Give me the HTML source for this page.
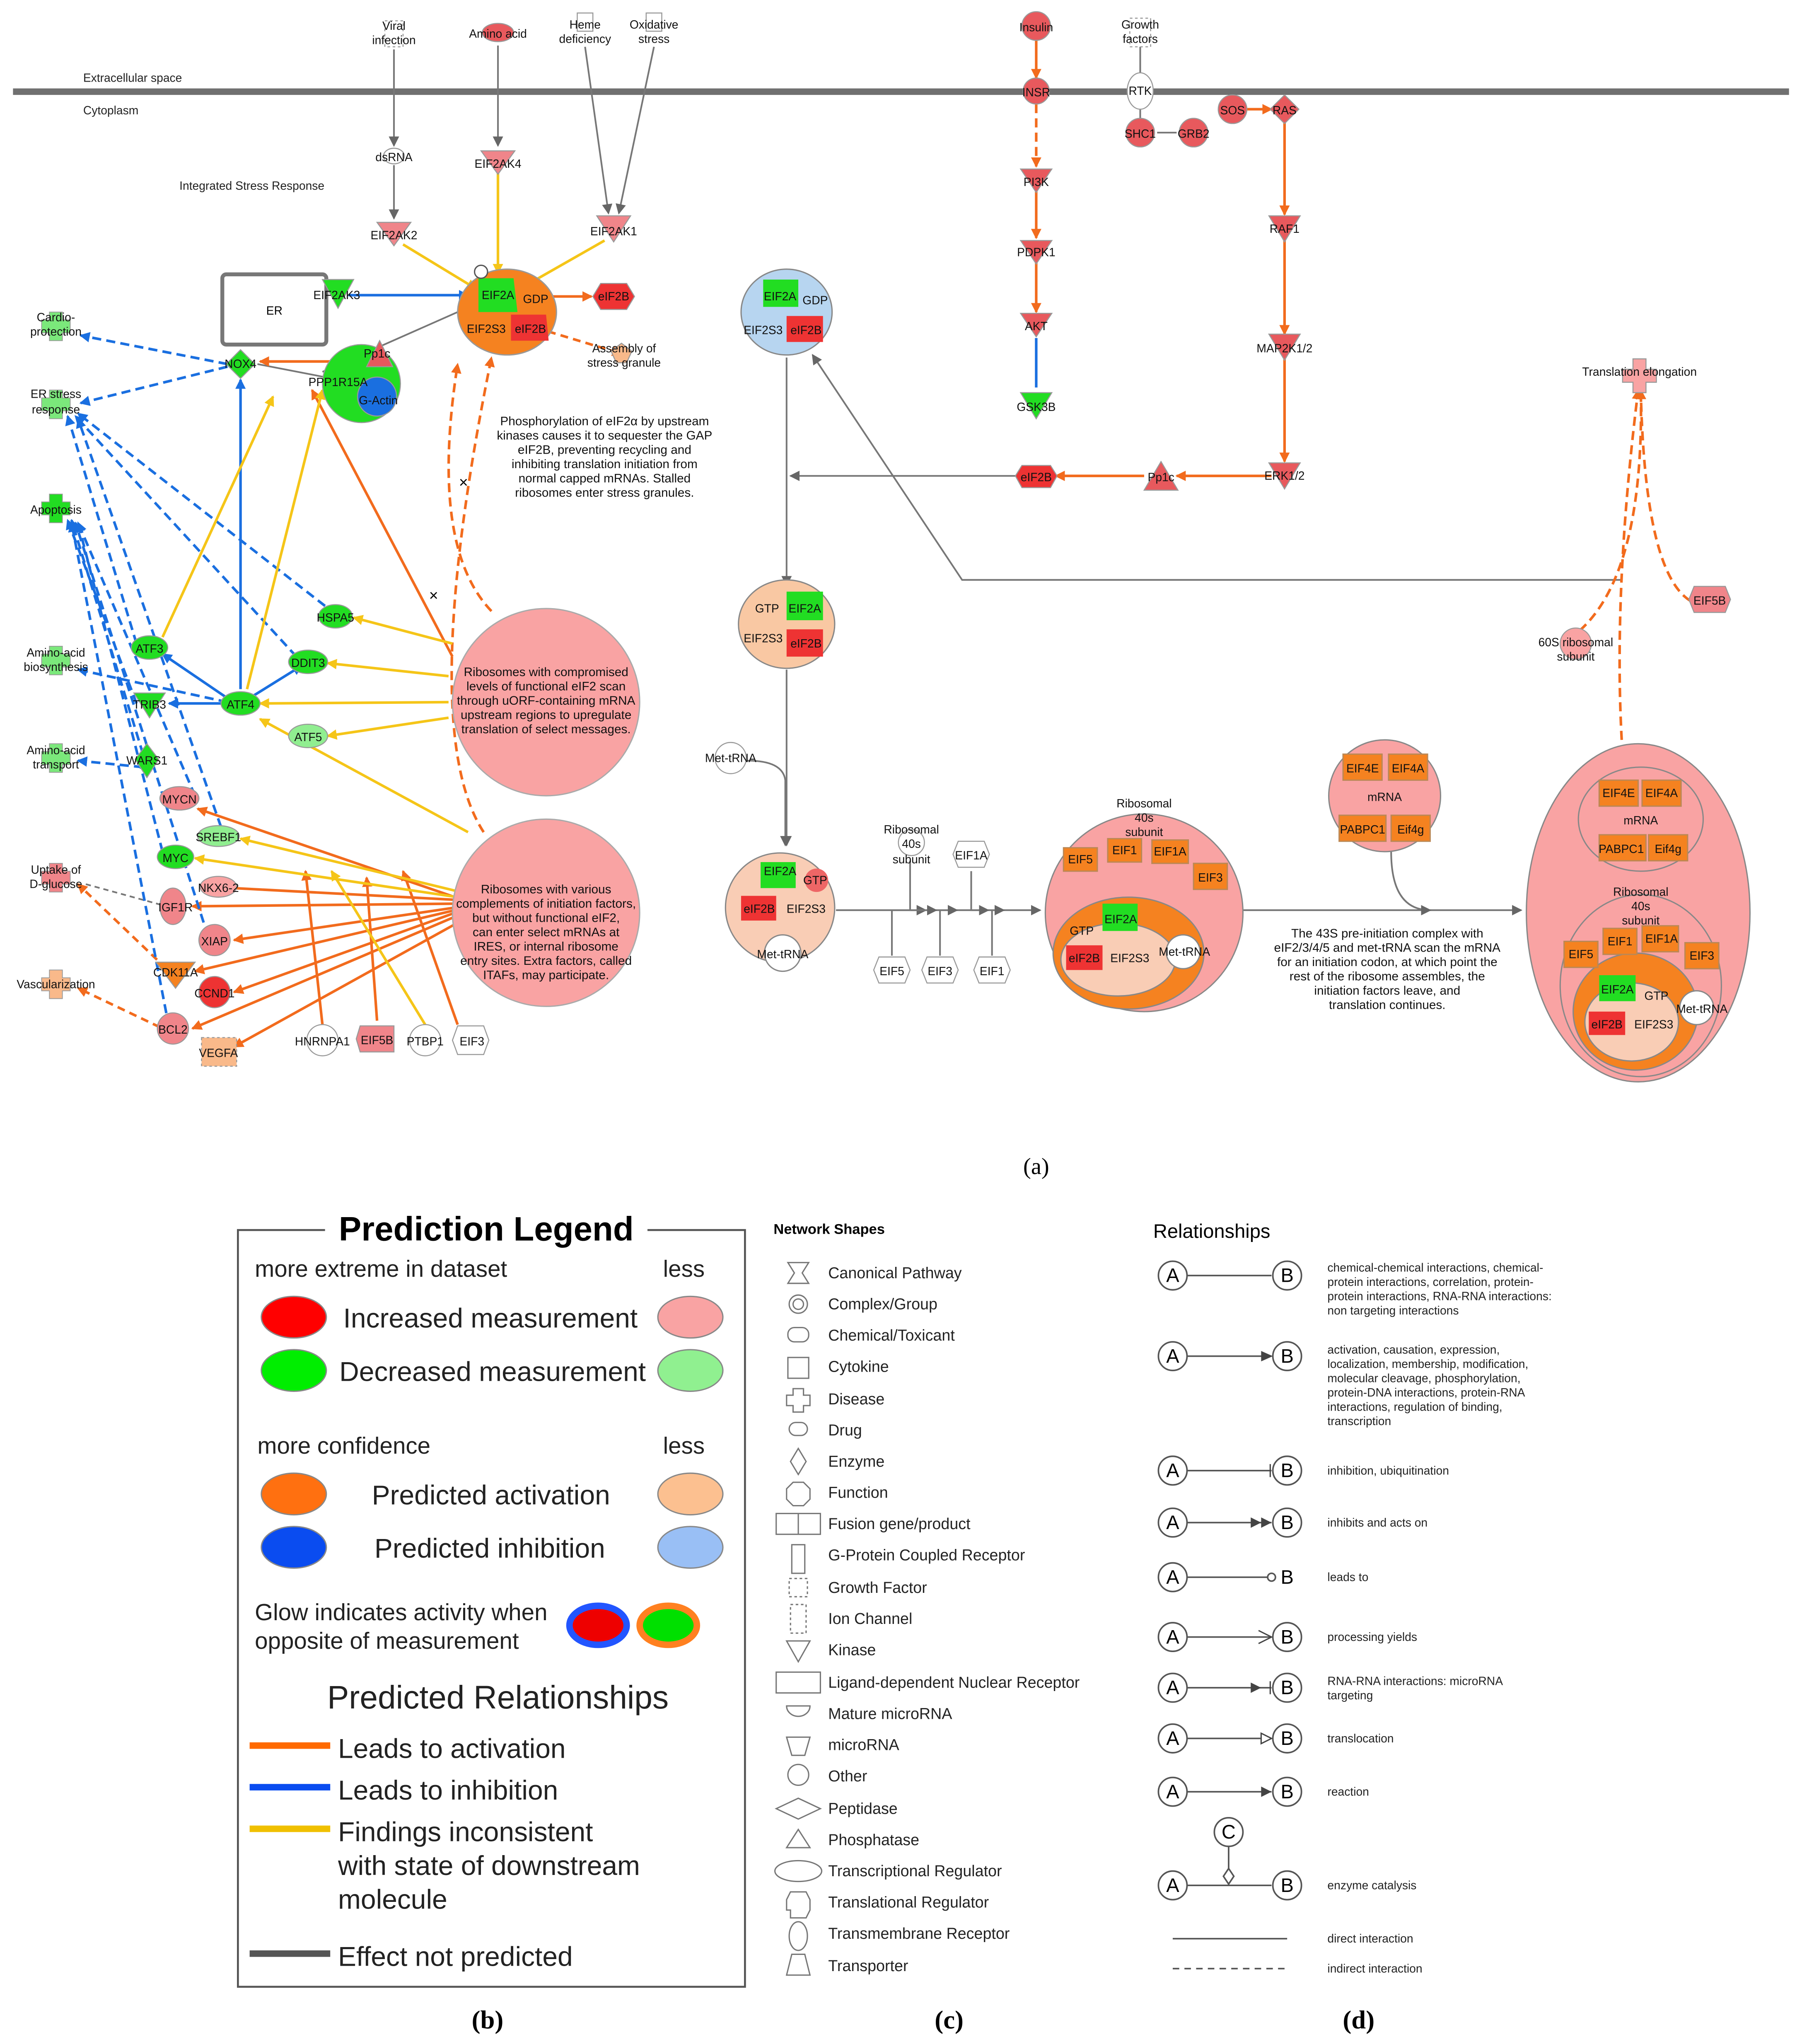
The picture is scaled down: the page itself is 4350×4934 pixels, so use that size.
<!DOCTYPE html>
<html><head><meta charset="utf-8"><style>html,body{margin:0;padding:0;background:#fff}svg{display:block}text{font-family:"Liberation Sans",sans-serif}text.serif{font-family:"Liberation Serif",serif}</style></head><body>
<svg width="4350" height="4934" viewBox="0 0 1386 1572" preserveAspectRatio="none" xmlns="http://www.w3.org/2000/svg">
<defs>
<marker id="ag" markerWidth="8" markerHeight="8" refX="7" refY="4" orient="auto" markerUnits="userSpaceOnUse"><path d="M0,0L8,4L0,8z" fill="#666"/></marker>
<marker id="ao" markerWidth="8" markerHeight="8" refX="7" refY="4" orient="auto" markerUnits="userSpaceOnUse"><path d="M0,0L8,4L0,8z" fill="#f26b1d"/></marker>
<marker id="ab" markerWidth="8" markerHeight="8" refX="7" refY="4" orient="auto" markerUnits="userSpaceOnUse"><path d="M0,0L8,4L0,8z" fill="#1a6fe0"/></marker>
<marker id="ay" markerWidth="8" markerHeight="8" refX="7" refY="4" orient="auto" markerUnits="userSpaceOnUse"><path d="M0,0L8,4L0,8z" fill="#f5c518"/></marker>
</defs>
<rect width="1386" height="1572" fill="#fff"/>
<rect x="10" y="68" width="1366" height="5" fill="#707070"/>
<g font-size="9" fill="#222">
<text x="64" y="63">Extracellular space</text>
<text x="64" y="88">Cytoplasm</text>
<text x="138" y="146">Integrated Stress Response</text>
</g>
<g stroke="#777" stroke-width="1.3" fill="none" marker-end="url(#ag)">
<path d="M303,38V112"/><path d="M303,127V168"/><path d="M383,35V112"/><path d="M450,36L468,164"/><path d="M503,36L476,164"/>
<path d="M605,275V450"/><path d="M605,515V650"/><path d="M1248,446H740L625,273"/>
<path d="M790,366H608"/><path d="M575,585Q602,585 604,600V650"/>
<path d="M643,700H800"/><path d="M700,662V700H712"/><path d="M686,735V700H720"/><path d="M723,735V700H736"/><path d="M763,735V700H772"/><path d="M747,670V700H760"/>
<path d="M955,700H1170"/><path d="M1070,655Q1070,700 1100,700"/>
</g>
<g stroke="#777" stroke-width="1.3" fill="none"><path d="M877,36V60"/><path d="M877,80V95"/><path d="M890,102H905"/><path d="M248,286L352,240"/><path d="M198,280L260,292"/><path d="M66,680L128,697" stroke-dasharray="4,3"/></g>
<g stroke="#f26b1d" stroke-width="2" fill="none" marker-end="url(#ao)">
<path d="M797,28V60"/><path d="M797,80V128" stroke-dasharray="7,4"/><path d="M797,146V183"/><path d="M797,201V240"/>
<path d="M988,93V165"/><path d="M988,184V257"/><path d="M988,276V355"/><path d="M978,366H905"/><path d="M880,366H812"/>
<path d="M958,84H978"/>
<path d="M418,228H455" />
<path d="M412,252L478,272" stroke-dasharray="6,4"/>
<path d="M378,470Q330,420 352,280" stroke-dasharray="7,4"/>
<path d="M372,640Q320,560 378,275" stroke-dasharray="7,4"/>
<path d="M1248,580Q1240,460 1260,300" stroke-dasharray="7,4"/>
<path d="M1215,485Q1265,440 1262,300" stroke-dasharray="7,4"/>
<path d="M1300,462Q1265,440 1262,300" stroke-dasharray="7,4"/>
<path d="M348,505L240,300"/>
<path d="M350,690L152,622"/><path d="M350,692L160,682"/><path d="M350,695L148,697"/><path d="M350,698L180,723"/><path d="M350,700L150,747"/><path d="M350,702L180,763"/><path d="M350,705L148,791"/><path d="M355,708L180,805"/>
<path d="M248,788L235,670"/><path d="M290,785L282,675"/><path d="M352,788L310,670"/>
<path d="M128,745L60,680" stroke-dasharray="6,4"/><path d="M123,790L60,760" stroke-dasharray="6,4"/>
<path d="M258,278H200"/>
</g>
<g stroke="#1a6fe0" stroke-width="2" fill="none" marker-end="url(#ab)">
<path d="M268,227H360"/><path d="M185,530V292"/>
<path d="M175,280L62,258" stroke-dasharray="7,4"/><path d="M175,282L62,310" stroke-dasharray="7,4"/>
<path d="M172,541H130"/><path d="M195,535L232,512"/><path d="M175,537L125,503"/>
<path d="M250,466L60,318" stroke-dasharray="7,4"/><path d="M228,505L58,320" stroke-dasharray="7,4"/><path d="M105,495L52,320" stroke-dasharray="7,4"/>
<path d="M170,636L60,322" stroke-dasharray="7,4"/><path d="M105,541L52,400" stroke-dasharray="7,4"/><path d="M110,580L55,400" stroke-dasharray="7,4"/>
<path d="M150,612L60,402" stroke-dasharray="7,4"/><path d="M125,655L60,402" stroke-dasharray="7,4"/><path d="M160,720L58,402" stroke-dasharray="7,4"/><path d="M130,790L55,402" stroke-dasharray="7,4"/>
<path d="M175,540L60,515" stroke-dasharray="7,4"/><path d="M110,590L60,585" stroke-dasharray="7,4"/>
</g>
<path d="M797,260V298" stroke="#1a6fe0" stroke-width="2"/>
<g stroke="#f5c518" stroke-width="2" fill="none" marker-end="url(#ay)">
<path d="M383,132V210"/><path d="M310,188L366,222"/><path d="M465,185L400,222"/>
<path d="M348,495L272,475"/><path d="M345,520L252,510"/><path d="M345,540L200,541"/><path d="M345,552L252,566"/><path d="M360,640L200,553"/>
<path d="M350,685L185,645"/><path d="M352,690L150,660"/><path d="M190,530L248,300"/><path d="M125,490L210,305"/>
<path d="M327,788L255,670"/>
</g>
<circle cx="420" cy="540" r="72" fill="#f9a3a3" stroke="#aaa"/>
<circle cx="420" cy="702" r="72" fill="#f9a3a3" stroke="#aaa"/>
<g font-size="9.5" text-anchor="middle" fill="#111">
<text x="420" y="520">Ribosomes with compromised</text><text x="420" y="531">levels of functional eIF2 scan</text><text x="420" y="542">through uORF-containing mRNA</text><text x="420" y="553">upstream regions to upregulate</text><text x="420" y="564">translation of select messages.</text>
<text x="420" y="687">Ribosomes with various</text><text x="420" y="698">complements of initiation factors,</text><text x="420" y="709">but without functional eIF2,</text><text x="420" y="720">can enter select mRNAs at</text><text x="420" y="731">IRES, or internal ribosome</text><text x="420" y="742">entry sites. Extra factors, called</text><text x="420" y="753">ITAFs, may participate.</text>
<text x="465" y="327">Phosphorylation of eIF2α by upstream</text><text x="465" y="338">kinases causes it to sequester the GAP</text><text x="465" y="349">eIF2B, preventing recycling and</text><text x="465" y="360">inhibiting translation initiation from</text><text x="465" y="371">normal capped mRNAs. Stalled</text><text x="465" y="382">ribosomes enter stress granules.</text>
<text x="1067" y="721">The 43S pre-initiation complex with</text><text x="1067" y="732">eIF2/3/4/5 and met-tRNA scan the mRNA</text><text x="1067" y="743">for an initiation codon, at which point the</text><text x="1067" y="754">rest of the ribosome assembles, the</text><text x="1067" y="765">initiation factors leave, and</text><text x="1067" y="776">translation continues.</text>
</g>
<text x="353" y="375" font-size="12">×</text><text x="330" y="462" font-size="12">×</text>
<rect x="171" y="211" width="80" height="54" fill="#fff" stroke="#777" stroke-width="3" rx="3"/>
<text x="211" y="242" font-size="9" text-anchor="middle">ER</text>
<ellipse cx="390" cy="240" rx="38" ry="33" fill="#f58220" stroke="#999"/>
<polygon points="368,214 395,214 398,240 368,240" fill="#22dd22"/>
<polygon points="393,242 420,242 422,262 393,262" fill="#e33"/>
<circle cx="370" cy="209" r="5" fill="#fff" stroke="#555"/>
<ellipse cx="605" cy="240" rx="35" ry="33" fill="#b7d5f0" stroke="#888"/>
<polygon points="587,215 614,215 614,236 587,236" fill="#22dd22"/><polygon points="605,243 633,243 633,263 605,263" fill="#e33"/>
<ellipse cx="605" cy="480" rx="37" ry="34" fill="#f9c8a3" stroke="#888"/>
<polygon points="605,455 633,455 633,477 605,477" fill="#22dd22"/><polygon points="605,484 633,484 633,505 605,505" fill="#e33"/>
<circle cx="600" cy="698" r="42" fill="#f9cdb5" stroke="#888"/>
<polygon points="585,663 612,663 612,683 585,683" fill="#22dd22"/><polygon points="570,689 597,689 597,708 570,708" fill="#e33"/><circle cx="628" cy="677" r="9" fill="#e66"/><circle cx="602" cy="733" r="14" fill="#fff" stroke="#888"/>
<circle cx="880" cy="702" r="76" fill="#f9a3a3" stroke="#888"/>
<ellipse cx="868" cy="733" rx="58" ry="43" fill="#f58220" stroke="#888"/>
<ellipse cx="860" cy="738" rx="44" ry="28" fill="#f9cdb5" stroke="#888"/>
<polygon points="848,695 875,695 875,716 848,716" fill="#22dd22"/><polygon points="820,727 848,727 848,746 820,746" fill="#e33"/><circle cx="910" cy="732" r="13" fill="#fff" stroke="#888"/>
<circle cx="1065" cy="612" r="43" fill="#f9a3a3" stroke="#888"/>
<ellipse cx="1260" cy="702" rx="86" ry="130" fill="#f9a3a3" stroke="#888"/>
<ellipse cx="1262" cy="630" rx="48" ry="40" fill="none" stroke="#888"/>
<ellipse cx="1262" cy="758" rx="62" ry="70" fill="none" stroke="#888"/>
<ellipse cx="1258" cy="778" rx="48" ry="45" fill="#f58220" stroke="#888"/>
<ellipse cx="1255" cy="786" rx="36" ry="30" fill="#f9cdb5" stroke="#888"/>
<polygon points="1230,750 1258,750 1258,770 1230,770" fill="#22dd22"/><polygon points="1222,778 1250,778 1250,796 1222,796" fill="#e33"/><circle cx="1305" cy="775" r="13" fill="#fff" stroke="#888"/>
<g fill="#f58220" stroke="#b85">
<rect x="818" y="652" width="26" height="18"/><rect x="852" y="645" width="26" height="18"/><rect x="886" y="646" width="28" height="18"/><rect x="918" y="664" width="26" height="20"/>
<rect x="1033" y="580" width="30" height="20"/><rect x="1068" y="580" width="30" height="20"/><rect x="1030" y="627" width="36" height="20"/><rect x="1070" y="627" width="30" height="20"/>
<rect x="1230" y="600" width="30" height="20"/><rect x="1263" y="600" width="30" height="20"/><rect x="1230" y="642" width="36" height="20"/><rect x="1268" y="642" width="30" height="20"/>
<rect x="1203" y="724" width="26" height="20"/><rect x="1233" y="714" width="26" height="20"/><rect x="1263" y="712" width="28" height="20"/><rect x="1296" y="725" width="26" height="20"/>
</g>
<g stroke="#999" stroke-width="0.8">
<circle cx="797" cy="20" r="11" fill="#e8595d"/><circle cx="797" cy="70" r="10" fill="#e8595d"/>
<polygon points="785,130 809,130 797,148" fill="#e8595d"/><polygon points="785,185 809,185 797,203" fill="#e8595d"/><polygon points="785,241 809,241 797,259" fill="#e8595d"/>
<polygon points="785,302 809,302 797,322" fill="#22dd22"/>
<polygon points="786,358 808,358 813,366 808,375 786,375 781,366" fill="#e33"/>
<polygon points="893,355 906,377 880,377" fill="#e8595d"/>
<polygon points="976,356 1000,356 988,376" fill="#e8595d"/><polygon points="976,257 1000,257 988,277" fill="#e8595d"/><polygon points="976,166 1000,166 988,186" fill="#e8595d"/>
<polygon points="988,73 999,84 988,95 977,84" fill="#e8595d"/><circle cx="948" cy="84" r="11" fill="#e8595d"/><circle cx="918" cy="102" r="11" fill="#e8595d"/><circle cx="877" cy="102" r="11" fill="#e8595d"/><ellipse cx="877" cy="70" rx="10" ry="14" fill="#fff"/>
<rect x="869" y="14" width="16" height="22" fill="#fff" stroke-dasharray="2,2"/>
<rect x="296" y="16" width="14" height="20" fill="#fff" stroke-dasharray="2,2"/><ellipse cx="383" cy="25" rx="12" ry="7" fill="#e8595d"/><rect x="444" y="10" width="12" height="14" fill="#fff"/><rect x="497" y="10" width="12" height="14" fill="#fff"/>
<ellipse cx="303" cy="120" rx="8" ry="6" fill="#fff"/>
<polygon points="370,116 396,116 383,134" fill="#f0858a"/><polygon points="290,171 316,171 303,189" fill="#f0858a"/><polygon points="459,166 485,166 472,186" fill="#f0858a"/>
<polygon points="462,218 482,218 488,228 482,238 462,238 456,228" fill="#e33"/>
<polygon points="248,215 272,215 260,237" fill="#22dd22"/>
<polygon points="185,269 196,280 185,291 174,280" fill="#22dd22"/>
<circle cx="278" cy="295" r="30" fill="#22dd22"/><circle cx="290" cy="305" r="15" fill="#1a6fe0"/><polygon points="292,262 302,282 282,282" fill="#e8595d"/>
<polygon points="478,264 486,270 482,279 474,279 470,270" fill="#f9b98a"/>
<ellipse cx="258" cy="474" rx="13" ry="9" fill="#22dd22"/><ellipse cx="115" cy="498" rx="14" ry="9" fill="#22dd22"/><ellipse cx="237" cy="509" rx="15" ry="9" fill="#22dd22"/><ellipse cx="185" cy="541" rx="15" ry="9" fill="#22dd22"/>
<polygon points="103,533 127,533 115,552" fill="#22dd22"/><ellipse cx="237" cy="566" rx="15" ry="9" fill="#90ee90"/>
<polygon points="113,572 122,584 113,598 104,584" fill="#22dd22"/>
<ellipse cx="138" cy="614" rx="15" ry="9" fill="#f0858a"/><ellipse cx="168" cy="643" rx="16" ry="8" fill="#90ee90"/><ellipse cx="135" cy="659" rx="14" ry="9" fill="#22dd22"/><ellipse cx="168" cy="682" rx="14" ry="8" fill="#f9a3a3"/>
<ellipse cx="133" cy="697" rx="10" ry="14" fill="#f0858a"/><circle cx="165" cy="723" r="12" fill="#f0858a"/><polygon points="120,740 150,740 135,760" fill="#f58220"/><circle cx="165" cy="763" r="12" fill="#e33"/><circle cx="133" cy="791" r="12" fill="#f0858a"/>
<rect x="155" y="798" width="27" height="22" fill="#f9b98a" stroke-dasharray="2,2"/>
<circle cx="248" cy="800" r="12" fill="#fff"/><polygon points="277,789 303,789 303,809 277,809 274,799" fill="#f0858a"/><circle cx="327" cy="800" r="12" fill="#fff"/><polygon points="352,789 372,789 376,800 372,811 352,811 348,800" fill="#fff"/>
<circle cx="562" cy="583" r="12" fill="#fff"/><circle cx="701" cy="648" r="10" fill="#fff"/>
<polygon points="737,647 757,647 761,657 757,667 737,667 733,657" fill="#fff"/><polygon points="676,736 696,736 700,746 696,756 676,756 672,746" fill="#fff"/><polygon points="713,736 733,736 737,746 733,756 713,756 709,746" fill="#fff"/><polygon points="753,736 773,736 777,746 773,756 753,756 749,746" fill="#fff"/>
<circle cx="1212" cy="495" r="12" fill="#f9a3a3"/><polygon points="1303,451 1327,451 1331,461 1327,471 1303,471 1299,461" fill="#f0858a"/>
<path d="M1256,276h10v8h8v10h-8v8h-10v-8h-8v-10h8z" fill="#f9a3a3"/>
</g>
<g fill="#7be87b" stroke="#999" stroke-width="0.6">
<path d="M38,240h10v6h6v10h-6v6h-10v-6h-6v-10h6z"/><path d="M38,300h10v6h6v10h-6v6h-10v-6h-6v-10h6z"/><path d="M38,380h10v6h6v10h-6v6h-10v-6h-6v-10h6z" fill="#22dd22"/>
<path d="M38,497h10v6h6v10h-6v6h-10v-6h-6v-10h6z"/><path d="M38,572h10v6h6v10h-6v6h-10v-6h-6v-10h6z"/><path d="M38,664h10v6h6v10h-6v6h-10v-6h-6v-10h6z" fill="#f0858a"/><path d="M38,746h10v6h6v10h-6v6h-10v-6h-6v-10h6z" fill="#f9b98a"/>
</g>
<g font-size="9" text-anchor="middle" fill="#111">
<text x="43" y="247">Cardio-</text><text x="43" y="258">protection</text><text x="43" y="306">ER stress</text><text x="43" y="318">response</text><text x="43" y="395">Apoptosis</text><text x="43" y="505">Amino-acid</text><text x="43" y="516">biosynthesis</text><text x="43" y="580">Amino-acid</text><text x="43" y="591">transport</text><text x="43" y="672">Uptake of</text><text x="43" y="683">D-glucose</text><text x="43" y="760">Vascularization</text>
<text x="303" y="23">Viral</text><text x="303" y="34">infection</text><text x="383" y="29">Amino acid</text><text x="450" y="22">Heme</text><text x="450" y="33">deficiency</text><text x="503" y="22">Oxidative</text><text x="503" y="33">stress</text>
<text x="303" y="124">dsRNA</text><text x="383" y="129">EIF2AK4</text><text x="303" y="184">EIF2AK2</text><text x="472" y="181">EIF2AK1</text>
<text x="383" y="230">EIF2A</text><text x="412" y="233">GDP</text><text x="374" y="256">EIF2S3</text><text x="408" y="256">eIF2B</text><text x="472" y="231">eIF2B</text>
<text x="480" y="271">Assembly of</text><text x="480" y="282">stress granule</text>
<text x="259" y="230">EIF2AK3</text><text x="185" y="283">NOX4</text><text x="260" y="297">PPP1R15A</text><text x="290" y="275">Pp1c</text><text x="291" y="311">G-Actin</text>
<text x="258" y="478">HSPA5</text><text x="115" y="502">ATF3</text><text x="237" y="513">DDIT3</text><text x="185" y="545">ATF4</text><text x="115" y="545">TRIB3</text><text x="237" y="570">ATF5</text><text x="113" y="588">WARS1</text><text x="138" y="618">MYCN</text><text x="168" y="647">SREBF1</text><text x="135" y="663">MYC</text><text x="168" y="686">NKX6-2</text><text x="135" y="701">IGF1R</text><text x="165" y="727">XIAP</text><text x="135" y="751">CDK11A</text><text x="165" y="767">CCND1</text><text x="133" y="795">BCL2</text><text x="168" y="813">VEGFA</text>
<text x="248" y="804">HNRNPA1</text><text x="290" y="803">EIF5B</text><text x="327" y="804">PTBP1</text><text x="363" y="804">EIF3</text>
<text x="797" y="24">Insulin</text><text x="797" y="74">INSR</text><text x="797" y="143">PI3K</text><text x="797" y="197">PDPK1</text><text x="797" y="254">AKT</text><text x="797" y="316">GSK3B</text><text x="797" y="370">eIF2B</text><text x="893" y="370">Pp1c</text><text x="988" y="369">ERK1/2</text><text x="988" y="271">MAP2K1/2</text><text x="988" y="179">RAF1</text><text x="988" y="88">RAS</text><text x="948" y="88">SOS</text><text x="918" y="106">GRB2</text><text x="877" y="106">SHC1</text><text x="877" y="73">RTK</text><text x="877" y="22">Growth</text><text x="877" y="33">factors</text>
<text x="600" y="231">EIF2A</text><text x="627" y="234">GDP</text><text x="587" y="257">EIF2S3</text><text x="620" y="257">eIF2B</text>
<text x="590" y="471">GTP</text><text x="619" y="471">EIF2A</text><text x="587" y="494">EIF2S3</text><text x="620" y="498">eIF2B</text>
<text x="600" y="673">EIF2A</text><text x="627" y="680">GTP</text><text x="584" y="702">eIF2B</text><text x="620" y="702">EIF2S3</text><text x="602" y="737">Met-tRNA</text>
<text x="562" y="586">Met-tRNA</text><text x="701" y="641">Ribosomal</text><text x="701" y="652">40s</text><text x="701" y="664">subunit</text><text x="747" y="661">EIF1A</text><text x="686" y="750">EIF5</text><text x="723" y="750">EIF3</text><text x="763" y="750">EIF1</text>
<text x="880" y="621">Ribosomal</text><text x="880" y="632">40s</text><text x="880" y="643">subunit</text><text x="831" y="664">EIF5</text><text x="865" y="657">EIF1</text><text x="900" y="658">EIF1A</text><text x="931" y="678">EIF3</text><text x="862" y="710">EIF2A</text><text x="832" y="719">GTP</text><text x="834" y="740">eIF2B</text><text x="869" y="740">EIF2S3</text><text x="911" y="735">Met-tRNA</text>
<text x="1048" y="594">EIF4E</text><text x="1083" y="594">EIF4A</text><text x="1065" y="616">mRNA</text><text x="1048" y="641">PABPC1</text><text x="1085" y="641">Eif4g</text>
<text x="1245" y="613">EIF4E</text><text x="1278" y="613">EIF4A</text><text x="1262" y="634">mRNA</text><text x="1247" y="656">PABPC1</text><text x="1283" y="656">Eif4g</text>
<text x="1262" y="689">Ribosomal</text><text x="1262" y="700">40s</text><text x="1262" y="711">subunit</text><text x="1216" y="737">EIF5</text><text x="1246" y="727">EIF1</text><text x="1278" y="725">EIF1A</text><text x="1309" y="738">EIF3</text><text x="1244" y="764">EIF2A</text><text x="1274" y="769">GTP</text><text x="1236" y="791">eIF2B</text><text x="1272" y="791">EIF2S3</text><text x="1309" y="779">Met-tRNA</text>
<text x="1261" y="289">Translation elongation</text><text x="1212" y="497">60S ribosomal</text><text x="1212" y="508">subunit</text><text x="1315" y="465">EIF5B</text>
</g>
<text class="serif" x="797" y="903" font-size="18" text-anchor="middle">(a)</text>
<rect x="183" y="946" width="390" height="582" fill="#fff" stroke="#555" stroke-width="1.5"/>
<rect x="250" y="930" width="248" height="30" fill="#fff"/>
<text x="374" y="954" font-size="26" font-weight="bold" text-anchor="middle">Prediction Legend</text>
<g font-size="18" fill="#222">
<text x="196" y="982">more extreme in dataset</text><text x="510" y="982">less</text>
<text x="264" y="1021" font-size="21">Increased measurement</text><text x="261" y="1062" font-size="21">Decreased measurement</text>
<text x="198" y="1118">more confidence</text><text x="510" y="1118">less</text>
<text x="286" y="1157" font-size="21">Predicted activation</text><text x="288" y="1198" font-size="21">Predicted inhibition</text>
<text x="196" y="1246">Glow indicates activity when</text><text x="196" y="1268">opposite of measurement</text>
<text x="383" y="1314" font-size="25" text-anchor="middle">Predicted Relationships</text>
<text x="260" y="1352" font-size="21">Leads to activation</text><text x="260" y="1384" font-size="21">Leads to inhibition</text>
<text x="260" y="1416" font-size="21">Findings inconsistent</text><text x="260" y="1442" font-size="21">with state of downstream</text><text x="260" y="1468" font-size="21">molecule</text>
<text x="260" y="1512" font-size="21">Effect not predicted</text>
</g>
<g stroke="#888">
<ellipse cx="226" cy="1013" rx="25" ry="16" fill="#ff0000"/><ellipse cx="531" cy="1013" rx="25" ry="16" fill="#f9a3a3"/>
<ellipse cx="226" cy="1054" rx="25" ry="16" fill="#00ee00"/><ellipse cx="531" cy="1054" rx="25" ry="16" fill="#90f090"/>
<ellipse cx="226" cy="1149" rx="25" ry="16" fill="#ff7010"/><ellipse cx="531" cy="1149" rx="25" ry="16" fill="#fcc090"/>
<ellipse cx="226" cy="1190" rx="25" ry="16" fill="#0a4cf0"/><ellipse cx="531" cy="1190" rx="25" ry="16" fill="#99bff5"/>
<ellipse cx="460" cy="1250" rx="22" ry="15" fill="#e00" stroke="#2255ff" stroke-width="5"/><ellipse cx="514" cy="1250" rx="22" ry="15" fill="#00e000" stroke="#ff8020" stroke-width="5"/>
</g>
<rect x="192" y="1340" width="62" height="5" fill="#ff6a00"/><rect x="192" y="1372" width="62" height="5" fill="#0a4cf0"/><rect x="192" y="1404" width="62" height="5" fill="#f0c000"/><rect x="192" y="1500" width="62" height="5" fill="#555"/>
<text class="serif" x="375" y="1560" font-size="20" font-weight="bold" text-anchor="middle">(b)</text>
<text x="595" y="949" font-size="11" font-weight="bold">Network Shapes</text>
<g font-size="12" fill="#222">
<text x="637" y="983">Canonical Pathway</text><text x="637" y="1007">Complex/Group</text><text x="637" y="1031">Chemical/Toxicant</text><text x="637" y="1055">Cytokine</text><text x="637" y="1080">Disease</text><text x="637" y="1104">Drug</text><text x="637" y="1128">Enzyme</text><text x="637" y="1152">Function</text><text x="637" y="1176">Fusion gene/product</text><text x="637" y="1200">G-Protein Coupled Receptor</text><text x="637" y="1225">Growth Factor</text><text x="637" y="1249">Ion Channel</text><text x="637" y="1273">Kinase</text><text x="637" y="1298">Ligand-dependent Nuclear Receptor</text><text x="637" y="1322">Mature microRNA</text><text x="637" y="1346">microRNA</text><text x="637" y="1370">Other</text><text x="637" y="1395">Peptidase</text><text x="637" y="1419">Phosphatase</text><text x="637" y="1443">Transcriptional Regulator</text><text x="637" y="1467">Translational Regulator</text><text x="637" y="1491">Transmembrane Receptor</text><text x="637" y="1516">Transporter</text>
</g>
<g fill="#fff" stroke="#777">
<path d="M606,971h16l-5,8l5,8h-16l5,-8z"/><circle cx="614" cy="1003" r="7"/><circle cx="614" cy="1003" r="4"/><rect x="606" y="1021" width="16" height="11" rx="5"/><rect x="606" y="1044" width="16" height="16"/>
<path d="M610,1068h8v5h5v8h-5v5h-8v-5h-5v-8h5z"/><rect x="607" y="1094" width="14" height="10" rx="5"/><path d="M614,1114l6,10l-6,10l-6,-10z"/><path d="M610,1140h8l5,5v8l-5,5h-8l-5,-5v-8z"/>
<rect x="597" y="1164" width="34" height="16"/><line x1="614" y1="1164" x2="614" y2="1180"/><rect x="609" y="1188" width="10" height="22"/><rect x="607" y="1214" width="14" height="14" stroke-dasharray="2,2"/><rect x="608" y="1234" width="12" height="22" stroke-dasharray="2,2"/>
<path d="M605,1262h18l-9,16z"/><rect x="597" y="1286" width="34" height="16"/><path d="M605,1312h18a9,8 0 0 1 -18,0z"/><path d="M605,1336h18l-4,14h-10z"/><circle cx="614" cy="1365" r="8"/>
<path d="M597,1391l17,-8l17,8l-17,8z"/><path d="M614,1407l9,14h-18z"/><ellipse cx="614" cy="1439" rx="18" ry="8"/><path d="M608,1455h12l3,6v8l-3,6h-12v-6h-3v-8z"/><ellipse cx="614" cy="1489" rx="7" ry="11"/><path d="M609,1503h10l4,16h-18z"/>
</g>
<text class="serif" x="730" y="1560" font-size="20" font-weight="bold" text-anchor="middle">(c)</text>
<text x="887" y="952" font-size="15">Relationships</text>
<g stroke="#555" fill="#fff" stroke-width="1.2">
<line x1="913" y1="981" x2="978" y2="981"/><line x1="913" y1="1043" x2="978" y2="1043"/><line x1="913" y1="1131" x2="978" y2="1131"/><line x1="913" y1="1171" x2="978" y2="1171"/><line x1="913" y1="1213" x2="975" y2="1213"/><line x1="913" y1="1259" x2="978" y2="1259"/><line x1="913" y1="1298" x2="978" y2="1298"/><line x1="913" y1="1337" x2="978" y2="1337"/><line x1="913" y1="1378" x2="978" y2="1378"/><line x1="913" y1="1450" x2="978" y2="1450"/><line x1="945" y1="1420" x2="945" y2="1450"/>
<line x1="902" y1="1491" x2="990" y2="1491"/><line x1="902" y1="1514" x2="990" y2="1514" stroke-dasharray="5,4"/>
<circle cx="902" cy="981" r="11"/><circle cx="990" cy="981" r="11"/><circle cx="902" cy="1043" r="11"/><circle cx="990" cy="1043" r="11"/><circle cx="902" cy="1131" r="11"/><circle cx="990" cy="1131" r="11"/><circle cx="902" cy="1171" r="11"/><circle cx="990" cy="1171" r="11"/><circle cx="902" cy="1213" r="11"/><circle cx="978" cy="1213" r="3"/><circle cx="902" cy="1259" r="11"/><circle cx="990" cy="1259" r="11"/><circle cx="902" cy="1298" r="11"/><circle cx="990" cy="1298" r="11"/><circle cx="902" cy="1337" r="11"/><circle cx="990" cy="1337" r="11"/><circle cx="902" cy="1378" r="11"/><circle cx="990" cy="1378" r="11"/><circle cx="902" cy="1450" r="11"/><circle cx="990" cy="1450" r="11"/><circle cx="945" cy="1409" r="11"/>
<path d="M945,1437l4,6l-4,6l-4,-6z"/>
</g>
<g fill="#444"><path d="M970,1039l9,4l-9,4z"/><path d="M962,1167l8,4l-8,4z"/><path d="M970,1167l8,4l-8,4z"/><path d="M962,1294l8,4l-8,4z"/><path d="M970,1374l8,4l-8,4z"/></g>
<g stroke="#444" fill="none"><line x1="977" y1="1126" x2="977" y2="1136"/><path d="M968,1254l10,5l-10,5"/><line x1="977" y1="1293" x2="977" y2="1303"/><path d="M970,1333l8,4l-8,4z" fill="#fff"/></g>
<g font-size="15" text-anchor="middle"><text x="902" y="986">A</text><text x="990" y="986">B</text><text x="902" y="1048">A</text><text x="990" y="1048">B</text><text x="902" y="1136">A</text><text x="990" y="1136">B</text><text x="902" y="1176">A</text><text x="990" y="1176">B</text><text x="902" y="1218">A</text><text x="990" y="1218">B</text><text x="902" y="1264">A</text><text x="990" y="1264">B</text><text x="902" y="1303">A</text><text x="990" y="1303">B</text><text x="902" y="1342">A</text><text x="990" y="1342">B</text><text x="902" y="1383">A</text><text x="990" y="1383">B</text><text x="902" y="1455">A</text><text x="990" y="1455">B</text><text x="945" y="1414">C</text></g>
<g font-size="9" fill="#222">
<text x="1021" y="978">chemical-chemical interactions, chemical-</text><text x="1021" y="989">protein interactions, correlation, protein-</text><text x="1021" y="1000">protein interactions, RNA-RNA interactions:</text><text x="1021" y="1011">non targeting interactions</text>
<text x="1021" y="1041">activation, causation, expression,</text><text x="1021" y="1052">localization, membership, modification,</text><text x="1021" y="1063">molecular cleavage, phosphorylation,</text><text x="1021" y="1074">protein-DNA interactions, protein-RNA</text><text x="1021" y="1085">interactions, regulation of binding,</text><text x="1021" y="1096">transcription</text>
<text x="1021" y="1134">inhibition, ubiquitination</text><text x="1021" y="1174">inhibits and acts on</text><text x="1021" y="1216">leads to</text><text x="1021" y="1262">processing yields</text><text x="1021" y="1296">RNA-RNA interactions: microRNA</text><text x="1021" y="1307">targeting</text><text x="1021" y="1340">translocation</text><text x="1021" y="1381">reaction</text><text x="1021" y="1453">enzyme catalysis</text><text x="1021" y="1494">direct interaction</text><text x="1021" y="1517">indirect interaction</text>
</g>
<text class="serif" x="1045" y="1560" font-size="20" font-weight="bold" text-anchor="middle">(d)</text>
</svg>
</body></html>
